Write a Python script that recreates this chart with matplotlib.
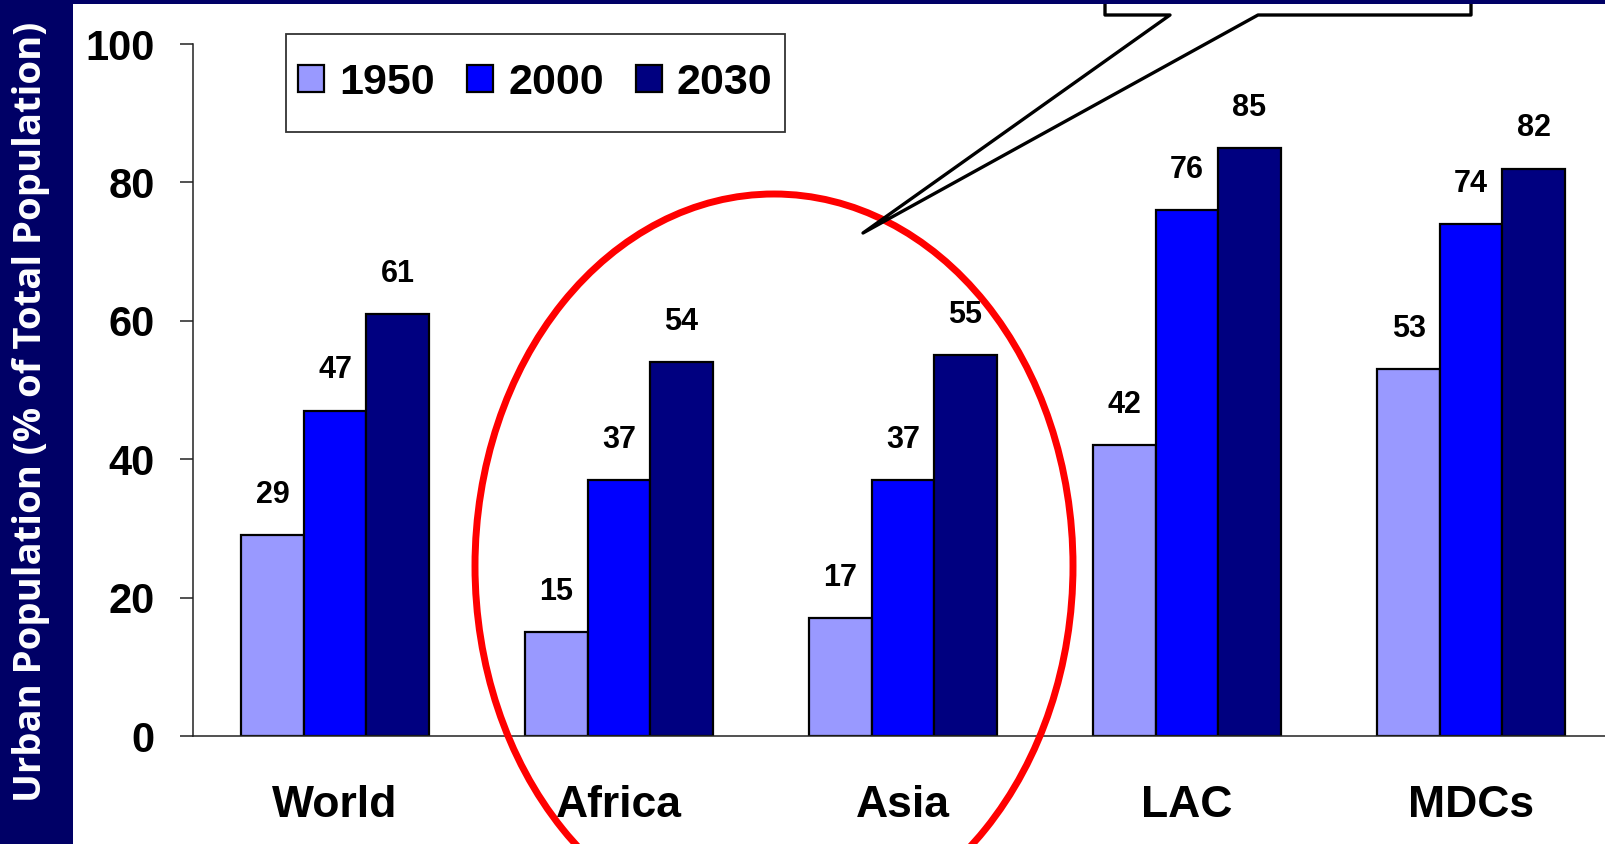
import matplotlib
matplotlib.use("Agg")
import matplotlib.pyplot as plt
from matplotlib.patches import Rectangle, Ellipse, Polygon
import numpy as np

# Urban population share (% of total population) by region
regions = ["World", "Africa", "Asia", "LAC", "MDCs"]
years = ["1950", "2000", "2030"]
urban_1950 = [29, 15, 17, 42, 53]
urban_2000 = [47, 37, 37, 76, 74]
urban_2030 = [61, 54, 55, 85, 82]
yticks = [0, 20, 40, 60, 80, 100]
ylabel = "Urban Population (% of Total Population)"

series = [urban_1950, urban_2000, urban_2030]
colors = ["#9999FF", "#0000FF", "#000080"]
NAVY = "#000066"

plt.rcParams["font.family"] = ["Liberation Sans", "DejaVu Sans"]
plt.rcParams["font.weight"] = "bold"

W, H = 1606, 844
fig = plt.figure(figsize=(W / 100, H / 100), dpi=100)
fig.patch.set_facecolor("white")


def fx(px):
    return px / W


def fy(py):
    return 1 - py / H


ax = fig.add_axes([fx(193), fy(736), 1 - fx(193), (736 - 44) / H])

x = np.arange(len(regions))
bw = 0.22
offsets = [-bw, 0.0, bw]
handles = []
for vals, col, off, yr in zip(series, colors, offsets, years):
    bars = ax.bar(x + off, vals, bw, color=col, edgecolor="black",
                  linewidth=1.6, label=yr, zorder=2)
    handles.append(bars)
    for xi, v in zip(x, vals):
        ax.annotate(str(v), (xi + off, v), xytext=(0, 29),
                    textcoords="offset points", ha="center", va="center",
                    fontsize=22, fontweight="bold", zorder=3)

ax.set_xlim(-0.5, 4.475)
ax.set_ylim(0, 100)
ax.set_yticks(yticks)
ax.set_xticks(x)
ax.set_xticklabels(regions)
for s in ("top", "right"):
    ax.spines[s].set_visible(False)
for s in ("left", "bottom"):
    ax.spines[s].set_color("#222222")
    ax.spines[s].set_linewidth(1.1)
ax.tick_params(axis="y", direction="out", length=9.5, width=1.1,
               color="#222222", pad=18, labelsize=30)
ax.tick_params(axis="x", length=0, pad=35, labelsize=32)
for lbl in ax.get_xticklabels() + ax.get_yticklabels():
    lbl.set_fontweight("bold")

# Legend in a framed box
leg = fig.legend([h[0] for h in handles], years, ncol=3, loc="center",
                 bbox_to_anchor=(fx(535.5), fy(83)),
                 bbox_transform=fig.transFigure, frameon=False,
                 prop={"size": 31, "weight": "bold"},
                 handlelength=0.6, handleheight=0.6, handletextpad=0.35,
                 columnspacing=0.75, borderpad=0, borderaxespad=0)
fig.add_artist(Rectangle((fx(286), fy(132)), fx(785) - fx(286), (132 - 34) / H,
                         transform=fig.transFigure, fill=False,
                         edgecolor="#333333", linewidth=1.3, zorder=4))

# Red ellipse highlighting Africa and Asia
fig.add_artist(Ellipse((fx(774), fy(566)), 598 / W, 744 / H,
                       transform=fig.transFigure, fill=False,
                       edgecolor="#FF0000", linewidth=5, zorder=5))

# Callout box with pointer
callout_px = [(1105, -60), (1105, 15), (1170, 15), (863, 233),
              (1258, 15), (1471, 15), (1471, -60)]
fig.add_artist(Polygon([(fx(a), fy(b)) for a, b in callout_px], closed=True,
                       transform=fig.transFigure, facecolor="white",
                       edgecolor="black", linewidth=2.4, joinstyle="round",
                       zorder=6))

# Navy frame strips
fig.add_artist(Rectangle((0, 0), fx(73), 1, transform=fig.transFigure,
                         facecolor=NAVY, edgecolor="none", zorder=7))
fig.add_artist(Rectangle((0, fy(3.5)), 1, 3.5 / H, transform=fig.transFigure,
                         facecolor=NAVY, edgecolor="none", zorder=7))

fig.text(fx(31), fy(412), ylabel, rotation=90, color="white", fontsize=27.5,
         fontweight="bold", family=["Open Sans", "DejaVu Sans"],
         ha="center", va="center", zorder=8)

fig.savefig("out.png", dpi=100, facecolor=fig.get_facecolor())
